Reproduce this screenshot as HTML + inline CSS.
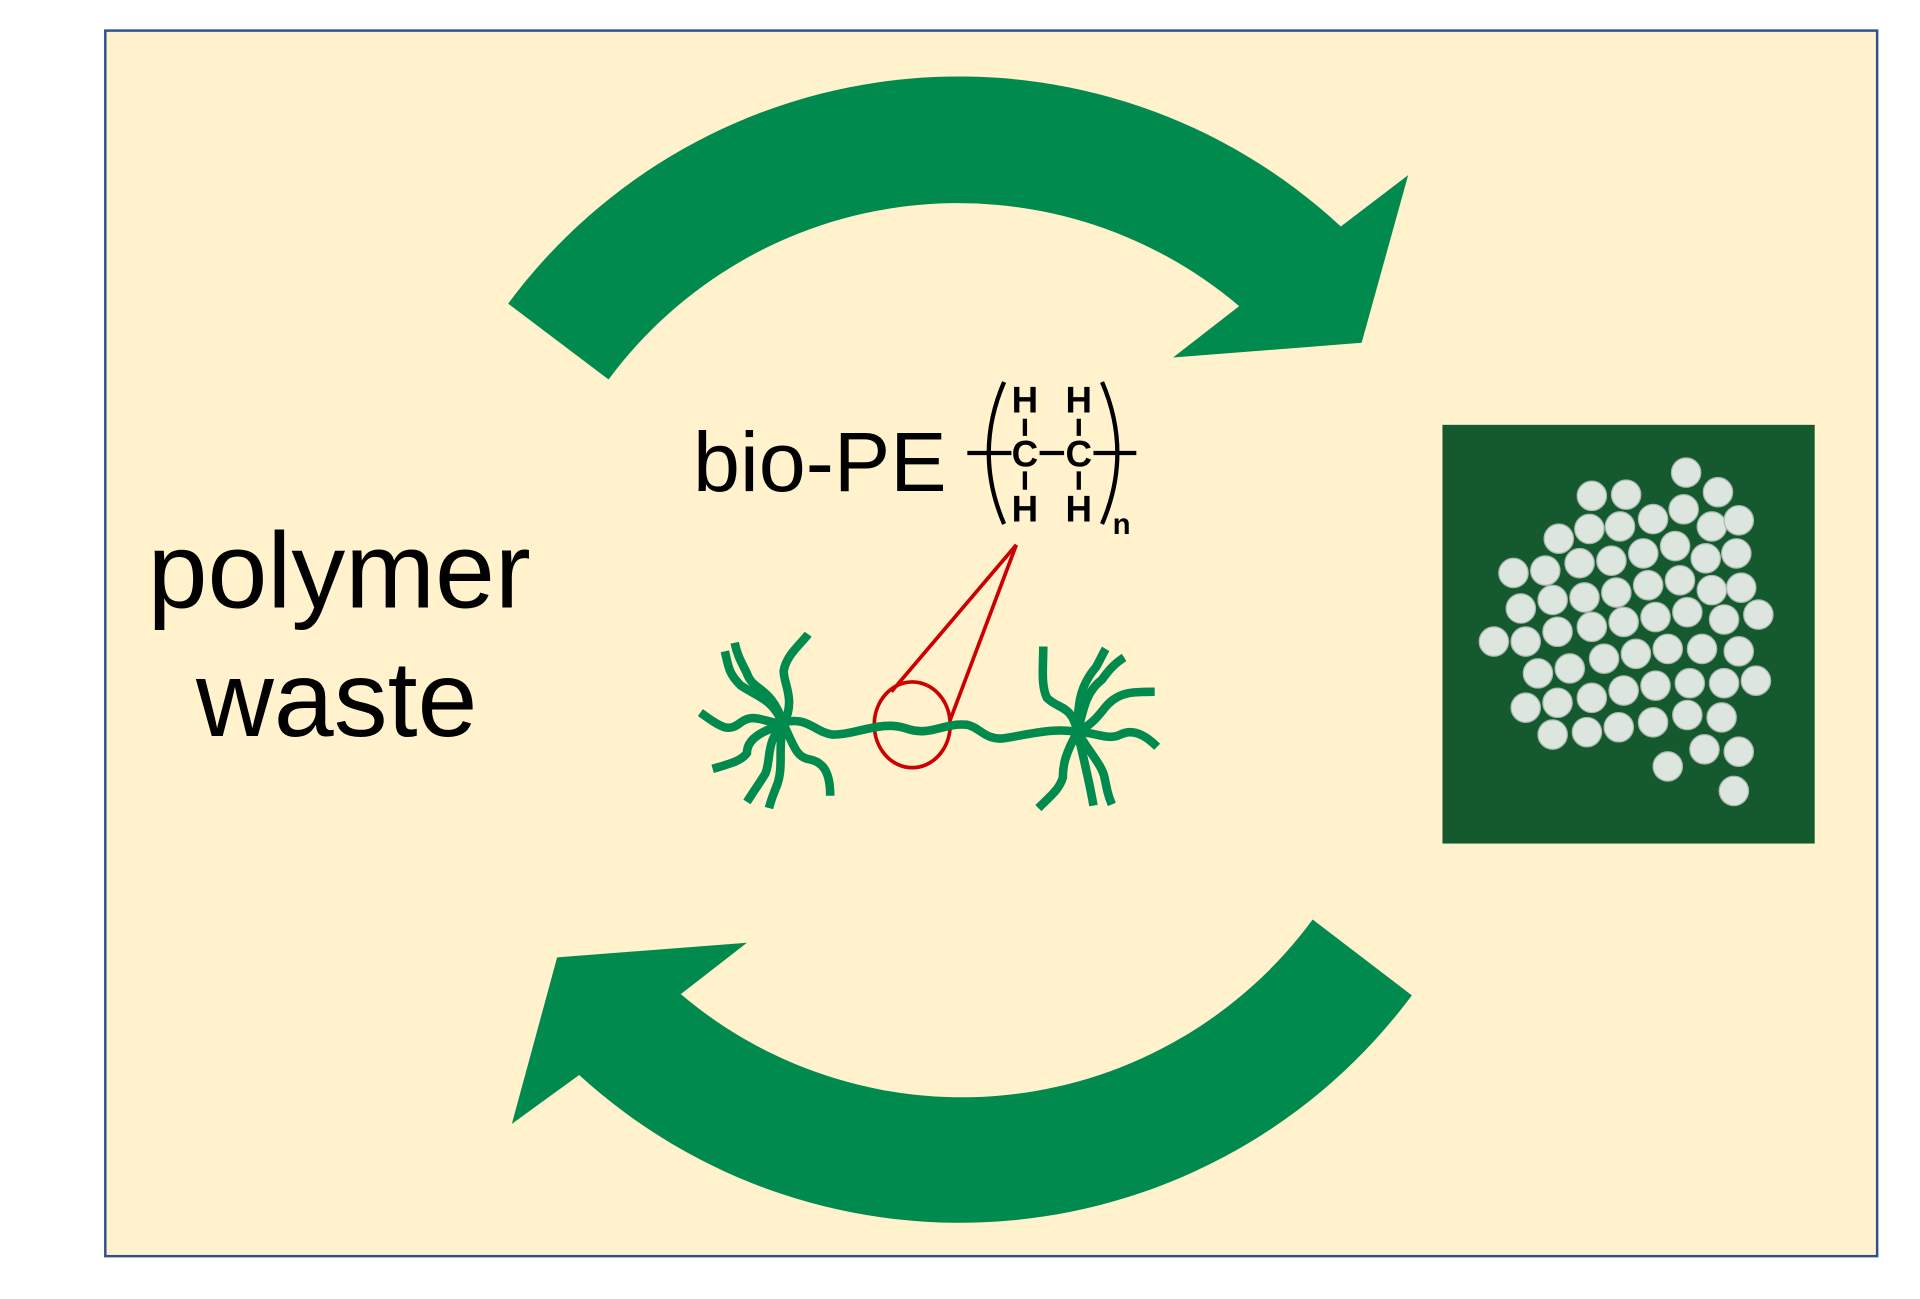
<!DOCTYPE html>
<html><head><meta charset="utf-8"><style>
html,body{margin:0;padding:0;background:#fff;}
svg{display:block;}
</style></head><body>
<svg width="1920" height="1299" viewBox="0 0 1568 1061" preserveAspectRatio="none" xmlns="http://www.w3.org/2000/svg">
<rect x="0" y="0" width="1568" height="1061" fill="#fff"/>
<rect x="86" y="25" width="1447" height="1001" fill="#fff2cd" stroke="#2f4f8f" stroke-width="2"/>
<!-- arrows -->
<path d="M415,248 A458,458 0 0 1 1095,185 L1150,143 L1112,280 L958,292 L1012,250 A355,355 0 0 0 497,310 Z" fill="#008a4e"/>
<path d="M1072,751 A355,355 0 0 1 556,812 L610,770 L455,782 L418,918 L473,878 A460,460 0 0 0 1153,813 Z" fill="#008a4e"/>
<!-- texts -->
<g font-family="Liberation Sans, Arial, sans-serif" fill="#000">
<text x="277" y="496" font-size="88" text-anchor="middle">polymer</text>
<text x="275" y="601" font-size="88" text-anchor="middle">waste</text>
<text x="566" y="401" font-size="69">bio-PE</text>
<g font-weight="bold" font-size="30" text-anchor="middle">
<text x="837" y="337">H</text><text x="881" y="337">H</text>
<text x="837" y="381">C</text><text x="881" y="381">C</text>
<text x="837" y="426">H</text><text x="881" y="426">H</text>
<text x="916" y="436" font-size="24">n</text>
</g>
</g>
<g stroke="#000" stroke-width="3.5" fill="none">
<line x1="790" y1="370" x2="826" y2="370"/><line x1="849" y1="370" x2="869" y2="370"/><line x1="893" y1="370" x2="928" y2="370"/>
<line x1="837" y1="342" x2="837" y2="356"/><line x1="881" y1="342" x2="881" y2="356"/>
<line x1="837" y1="385" x2="837" y2="400"/><line x1="881" y1="385" x2="881" y2="400"/>
<path d="M820,312 Q795,370 820,428"/>
<path d="M900,312 Q925,370 900,428"/>
</g>
<!-- red zoom -->
<g stroke="#cc0000" stroke-width="3" fill="none">
<line x1="830" y1="445" x2="728" y2="565"/>
<line x1="830" y1="445" x2="776" y2="588"/>
<ellipse cx="745" cy="592" rx="31" ry="35"/>
</g>
<!-- green molecule -->
<g stroke="#008a4e" stroke-width="7" fill="none" stroke-linecap="butt">
<path d="M640,590 C660,585 665,598 680,600 C700,600 720,588 740,595 C760,602 770,590 790,592 C800,594 805,605 820,603 C840,600 860,594 880,598"/>
<path d="M640,592 C630,570 620,570 605,560 C595,550 595,545 592,532"/>
<path d="M640,592 C630,560 615,565 610,550 C605,540 602,535 600,525"/>
<path d="M640,592 C650,570 640,560 640,548 C642,535 655,525 660,518"/>
<path d="M640,592 C620,588 615,583 605,590 C595,598 590,595 572,582"/>
<path d="M640,592 C620,597 610,605 610,615 C605,622 595,624 582,628"/>
<path d="M640,592 C625,605 630,620 625,632 C620,640 615,647 610,655"/>
<path d="M640,592 C635,610 640,625 635,640 C632,648 630,652 628,660"/>
<path d="M640,592 C648,608 650,618 660,620 C672,622 678,630 678,650"/>
<path d="M880,598 C875,575 865,580 855,570 C850,560 852,545 852,528"/>
<path d="M880,598 C880,575 882,560 895,545 C898,540 900,535 903,530"/>
<path d="M880,598 C885,578 887,565 900,555 C905,548 910,542 918,537"/>
<path d="M880,598 C895,590 900,580 905,575 C915,565 925,565 943,565"/>
<path d="M880,598 C895,598 905,605 915,600 C925,595 935,600 945,610"/>
<path d="M880,598 C870,615 868,625 868,635 C865,645 858,650 848,660"/>
<path d="M880,598 C885,620 890,640 893,658"/>
<path d="M880,598 C890,615 900,625 902,635 C904,645 905,650 908,657"/>
</g>
<!-- photo -->
<rect x="1178" y="347" width="304" height="342" fill="#145a2e"/>
<g fill="#dde5df" stroke="#aab8ae" stroke-width="1">
<circle cx="1377" cy="386" r="12"/><circle cx="1300" cy="405" r="12"/><circle cx="1328" cy="404" r="12"/><circle cx="1403" cy="402" r="12"/>
<circle cx="1273" cy="440" r="12"/><circle cx="1298" cy="432" r="12"/><circle cx="1323" cy="430" r="12"/><circle cx="1350" cy="424" r="12"/><circle cx="1375" cy="416" r="12"/><circle cx="1398" cy="430" r="12"/><circle cx="1420" cy="425" r="12"/>
<circle cx="1236" cy="468" r="12"/><circle cx="1262" cy="466" r="12"/><circle cx="1290" cy="460" r="12"/><circle cx="1316" cy="458" r="12"/><circle cx="1342" cy="452" r="12"/><circle cx="1368" cy="446" r="12"/><circle cx="1393" cy="456" r="12"/><circle cx="1418" cy="452" r="12"/>
<circle cx="1242" cy="497" r="12"/><circle cx="1268" cy="490" r="12"/><circle cx="1294" cy="488" r="12"/><circle cx="1320" cy="484" r="12"/><circle cx="1346" cy="478" r="12"/><circle cx="1372" cy="474" r="12"/><circle cx="1398" cy="482" r="12"/><circle cx="1422" cy="480" r="12"/>
<circle cx="1220" cy="524" r="12"/><circle cx="1246" cy="524" r="12"/><circle cx="1272" cy="516" r="12"/><circle cx="1300" cy="512" r="12"/><circle cx="1326" cy="508" r="12"/><circle cx="1352" cy="504" r="12"/><circle cx="1378" cy="500" r="12"/><circle cx="1408" cy="506" r="12"/><circle cx="1436" cy="502" r="12"/>
<circle cx="1256" cy="550" r="12"/><circle cx="1282" cy="546" r="12"/><circle cx="1310" cy="538" r="12"/><circle cx="1336" cy="534" r="12"/><circle cx="1362" cy="530" r="12"/><circle cx="1390" cy="530" r="12"/><circle cx="1420" cy="532" r="12"/>
<circle cx="1246" cy="578" r="12"/><circle cx="1272" cy="574" r="12"/><circle cx="1300" cy="570" r="12"/><circle cx="1326" cy="564" r="12"/><circle cx="1352" cy="560" r="12"/><circle cx="1380" cy="558" r="12"/><circle cx="1408" cy="558" r="12"/><circle cx="1434" cy="556" r="12"/>
<circle cx="1268" cy="600" r="12"/><circle cx="1296" cy="598" r="12"/><circle cx="1322" cy="594" r="12"/><circle cx="1350" cy="590" r="12"/><circle cx="1378" cy="584" r="12"/><circle cx="1406" cy="586" r="12"/>
<circle cx="1362" cy="626" r="12"/><circle cx="1392" cy="612" r="12"/><circle cx="1420" cy="614" r="12"/><circle cx="1416" cy="646" r="12"/>
</g>
</svg>
</body></html>
